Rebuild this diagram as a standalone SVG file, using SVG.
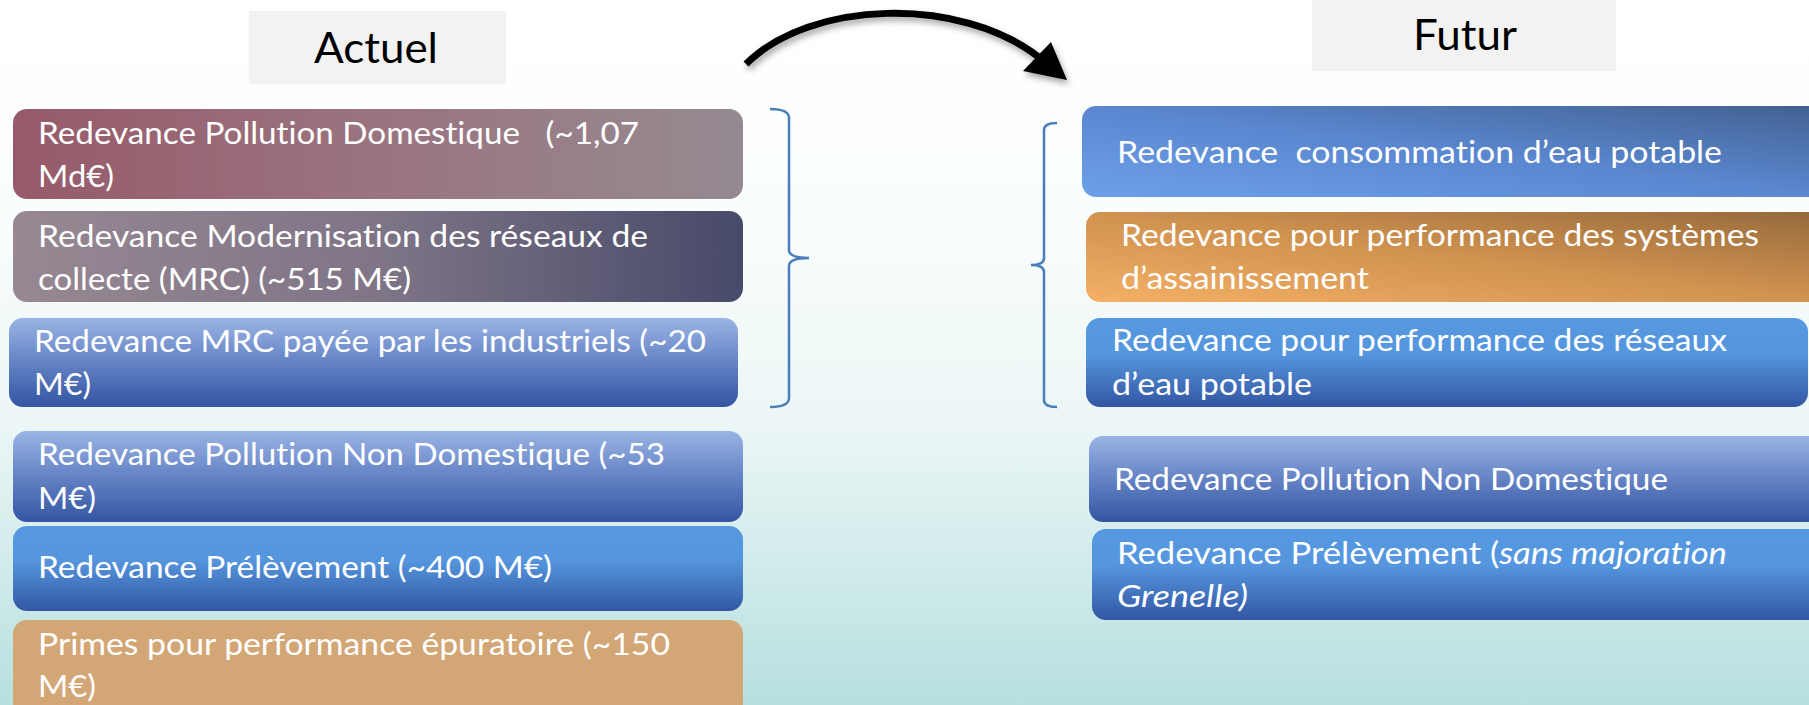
<svg xmlns="http://www.w3.org/2000/svg" width="1809" height="705" viewBox="0 0 1809 705">
  <defs>
    <linearGradient id="bg" x1="0" y1="0" x2="0" y2="1">
      <stop offset="0" stop-color="#ffffff"/>
      <stop offset="0.3" stop-color="#fafdfd"/>
      <stop offset="0.6" stop-color="#ecf6f6"/>
      <stop offset="1" stop-color="#b6e0df"/>
    </linearGradient>
    <linearGradient id="gL1" x1="0" y1="0" x2="1" y2="0">
      <stop offset="0" stop-color="#975a6a"/>
      <stop offset="0.5" stop-color="#9a7480"/>
      <stop offset="1" stop-color="#958a91"/>
    </linearGradient>
    <linearGradient id="gL2" x1="0" y1="0" x2="1" y2="0">
      <stop offset="0" stop-color="#978892"/>
      <stop offset="0.5" stop-color="#7f7587"/>
      <stop offset="1" stop-color="#474a69"/>
    </linearGradient>
    <linearGradient id="gV1" x1="0" y1="0" x2="0" y2="1">
      <stop offset="0" stop-color="#9ab4e4"/>
      <stop offset="0.5" stop-color="#6483c5"/>
      <stop offset="1" stop-color="#3355a2"/>
    </linearGradient>
    <linearGradient id="gV2" x1="0" y1="0" x2="0" y2="1">
      <stop offset="0" stop-color="#5699e0"/>
      <stop offset="0.4" stop-color="#5596de"/>
      <stop offset="1" stop-color="#3356a3"/>
    </linearGradient>
    <linearGradient id="gR1" x1="0" y1="1" x2="1" y2="0">
      <stop offset="0" stop-color="#6da0ea"/>
      <stop offset="0.5" stop-color="#5a87cf"/>
      <stop offset="1" stop-color="#42608f"/>
    </linearGradient>
    <linearGradient id="gR2" x1="0" y1="1" x2="1" y2="0">
      <stop offset="0" stop-color="#f4b066"/>
      <stop offset="0.5" stop-color="#d0924f"/>
      <stop offset="1" stop-color="#93683c"/>
    </linearGradient>
    <filter id="shadow" x="-10%" y="-30%" width="120%" height="160%">
      <feDropShadow dx="2" dy="4" stdDeviation="3" flood-color="#000" flood-opacity="0.35"/>
    </filter>
    <style>
      .t { font-family: Lato, "Open Sans", "Liberation Sans", sans-serif; font-size: 31.5px; fill: #ffffff; font-variant-ligatures: none; }
      .h { font-family: Lato, "Open Sans", "Liberation Sans", sans-serif; font-size: 43px; fill: #000000; }
      .hb { fill: #f2f2f2; }
      .br { fill: none; stroke: #4a7ebb; stroke-width: 2.5; }
      .i { font-style: italic; }
    </style>
  </defs>

  <rect x="0" y="0" width="1809" height="705" fill="url(#bg)"/>

  <g id="actuel">
    <rect class="hb" x="249" y="11" width="257" height="73"/>
    <text class="h" x="314" y="63" textLength="124" lengthAdjust="spacingAndGlyphs">Actuel</text>
  </g>
  <g id="futur">
    <rect class="hb" x="1312" y="0" width="304" height="71"/>
    <text class="h" x="1413" y="50" textLength="104" lengthAdjust="spacingAndGlyphs">Futur</text>
  </g>

  <g id="connectors">
    <g filter="url(#shadow)">
      <path d="M 746 64 C 810 0, 960 -5, 1040 58" fill="none" stroke="#000" stroke-width="7"/>
      <polygon points="1067,80 1023,71 1051,42" fill="#000"/>
    </g>
    <path class="br" d="M 770 109 Q 789 109 789 118 L 789 250 Q 789 258 809 258 Q 789 258 789 266 L 789 398 Q 789 407 770 407"/>
    <path class="br" d="M 1057 123 Q 1044 123 1044 130 L 1044 258 Q 1044 265 1031 265 Q 1044 265 1044 272 L 1044 400 Q 1044 407 1057 407"/>
  </g>

  <g id="L1">
    <rect x="13" y="109" width="730" height="90" rx="14" fill="url(#gL1)"/>
    <text class="t" x="38" y="144" textLength="601" lengthAdjust="spacingAndGlyphs" xml:space="preserve">Redevance Pollution Domestique   (~1,07</text>
    <text class="t" x="38" y="187" textLength="76" lengthAdjust="spacingAndGlyphs">Md€)</text>
  </g>
  <g id="L2">
    <rect x="13" y="211" width="730" height="91" rx="14" fill="url(#gL2)"/>
    <text class="t" x="38" y="247" textLength="610" lengthAdjust="spacingAndGlyphs">Redevance Modernisation des réseaux de</text>
    <text class="t" x="38" y="290" textLength="373" lengthAdjust="spacingAndGlyphs">collecte (MRC) (~515 M€)</text>
  </g>
  <g id="L3">
    <rect x="9" y="318" width="729" height="89" rx="14" fill="url(#gV1)"/>
    <text class="t" x="34" y="352" textLength="672" lengthAdjust="spacingAndGlyphs">Redevance MRC payée par les industriels (~20</text>
    <text class="t" x="34" y="395" textLength="57" lengthAdjust="spacingAndGlyphs">M€)</text>
  </g>
  <g id="L4">
    <rect x="13" y="431" width="730" height="91" rx="14" fill="url(#gV1)"/>
    <text class="t" x="38" y="465" textLength="627" lengthAdjust="spacingAndGlyphs">Redevance Pollution Non Domestique (~53</text>
    <text class="t" x="38" y="509" textLength="58" lengthAdjust="spacingAndGlyphs">M€)</text>
  </g>
  <g id="L5">
    <rect x="13" y="526" width="730" height="85" rx="14" fill="url(#gV2)"/>
    <text class="t" x="38" y="578" textLength="514" lengthAdjust="spacingAndGlyphs">Redevance Prélèvement (~400 M€)</text>
  </g>
  <g id="L6">
    <rect x="13" y="620" width="730" height="100" rx="14" fill="#d3a676"/>
    <text class="t" x="38" y="655" textLength="632" lengthAdjust="spacingAndGlyphs">Primes pour performance épuratoire (~150</text>
    <text class="t" x="38" y="697" textLength="58" lengthAdjust="spacingAndGlyphs">M€)</text>
  </g>

  <g id="R1">
    <rect x="1082" y="106" width="760" height="91" rx="14" fill="url(#gR1)"/>
    <text class="t" x="1117" y="163" textLength="605" lengthAdjust="spacingAndGlyphs" xml:space="preserve">Redevance  consommation d’eau potable</text>
  </g>
  <g id="R2">
    <rect x="1086" y="212" width="760" height="90" rx="14" fill="url(#gR2)"/>
    <text class="t" x="1121" y="246" textLength="638" lengthAdjust="spacingAndGlyphs">Redevance pour performance des systèmes</text>
    <text class="t" x="1121" y="289" textLength="248" lengthAdjust="spacingAndGlyphs">d’assainissement</text>
  </g>
  <g id="R3">
    <rect x="1086" y="318" width="722" height="89" rx="14" fill="url(#gV2)"/>
    <text class="t" x="1112" y="351" textLength="615" lengthAdjust="spacingAndGlyphs">Redevance pour performance des réseaux</text>
    <text class="t" x="1112" y="395" textLength="200" lengthAdjust="spacingAndGlyphs">d’eau potable</text>
  </g>
  <g id="R4">
    <rect x="1089" y="436" width="760" height="86" rx="14" fill="url(#gV1)"/>
    <text class="t" x="1114" y="490" textLength="554" lengthAdjust="spacingAndGlyphs">Redevance Pollution Non Domestique</text>
  </g>
  <g id="R5">
    <rect x="1092" y="529" width="760" height="91" rx="14" fill="url(#gV2)"/>
    <text class="t" x="1117" y="564" textLength="610" lengthAdjust="spacingAndGlyphs">Redevance Prélèvement (<tspan class="i">sans majoration</tspan></text>
    <text class="t i" x="1117" y="607" textLength="131" lengthAdjust="spacingAndGlyphs">Grenelle)</text>
  </g>
</svg>
